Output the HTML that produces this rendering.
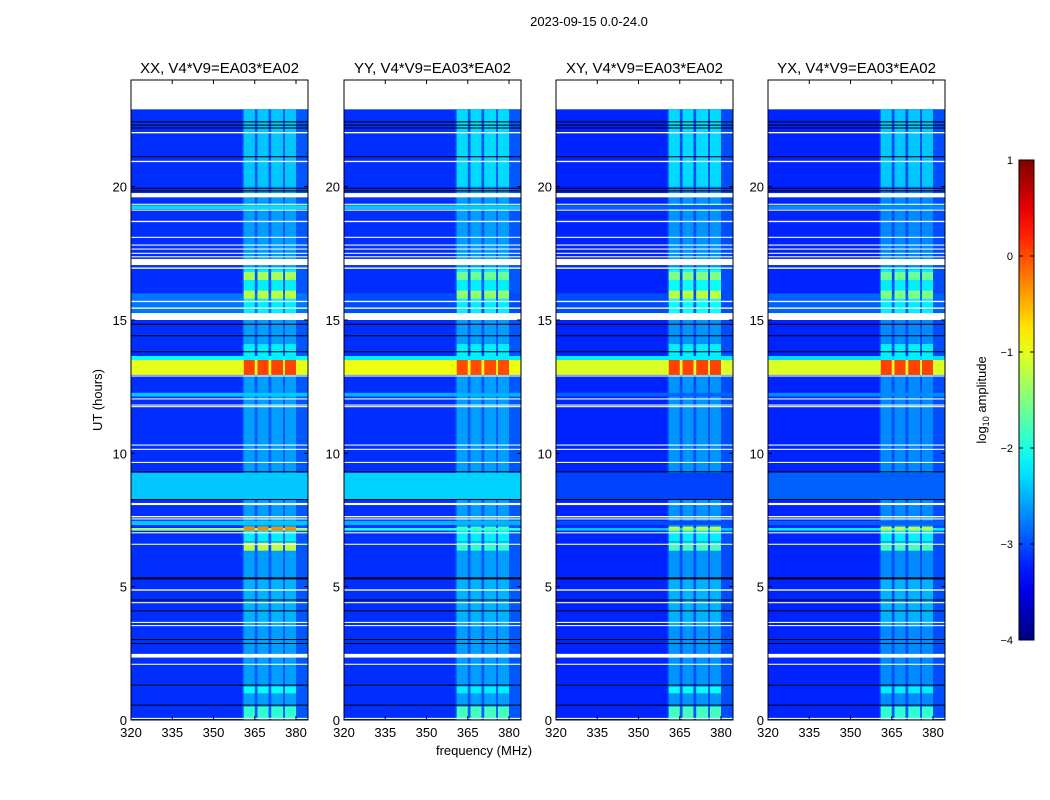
<!DOCTYPE html>
<html><head><meta charset="utf-8"><style>
body{margin:0;background:#fff;}
svg{display:block;font-family:"Liberation Sans",sans-serif;}
</style></head><body>
<svg id="chart" width="1050" height="800" viewBox="0 0 1050 800"></svg>
<script>
// ---- data ----
const panelNames = ["XX, V4*V9=EA03*EA02","YY, V4*V9=EA03*EA02","XY, V4*V9=EA03*EA02","YX, V4*V9=EA03*EA02"];
const panelLeft = [131,344,556,768];
const xTicks = [320,335,350,365,380];
const yTicks = [0,5,10,15,20];
const cbTicks = [1,0,-1,-2,-3,-4];
const bands = [[361,365],[366,370],[371,375.3],[376,380]];
const dataTop = 22.9;
const bgLevel = [-3.15,-3.15,-3.2,-3.2];
const regionLevel = [-2.95,-2.95,-3.0,-3.0];
const bandBase = [-2.6,-2.6,-2.65,-2.7];
// stripes across all frequencies: t0, t1, level per panel
const stripeT0 = [19.16,12.94,13.5,12.13,8.25,7.31,7.1,15.2];
const stripeT1 = [19.3,13.5,13.65,12.27,9.27,7.47,7.2,16.0];
const stripeLv = [
 [-2.3,-2.4,-2.9,-2.7],
 [-1.0,-0.95,-1.05,-1.05],
 [-2.1,-2.2,-2.2,-2.3],
 [-2.4,-2.5,-2.9,-2.7],
 [-2.4,-2.35,-3.05,-2.9],
 [-2.4,-2.5,-3.0,-2.9],
 [-1.3,-2.0,-2.4,-2.2],
 [-2.8,-3.0,-3.0,-2.9]
];
// band emission events: t0, t1, level per panel
const eventT0 = [0,1.0,6.35,6.7,7.1,12.94,13.5,15.1,15.8,16.5,20,3.5];
const eventT1 = [0.5,1.25,6.65,7.1,7.25,13.5,14.1,16.9,16.1,16.8,22.9,5.3];
const eventLv = [
 [-1.9,-1.8,-1.8,-1.9],
 [-2.1,-2.2,-2.1,-2.2],
 [-1.2,-1.9,-1.8,-1.8],
 [-2.2,-2.2,-2.2,-2.2],
 [-0.3,-1.8,-1.2,-1.2],
 [0.05,0.0,0.05,0.05],
 [-2.2,-2.2,-2.2,-2.2],
 [-2.2,-2.2,-2.1,-2.2],
 [-1.2,-1.4,-1.2,-1.5],
 [-1.3,-1.6,-1.5,-1.6],
 [-2.4,-2.3,-2.3,-2.4],
 [-2.5,-2.5,-2.5,-2.5]
];
// flagged (white) gaps
const gapT0 = [22.0,20.92,19.6,19.1,19.32,18.67,18.08,17.79,17.64,17.48,17.35,17.06,16.92,15.67,15.42,15.0,12.88,12.02,11.79,11.73,10.29,10.13,9.64,8.06,7.6,7.52,7.0,6.57,4.85,4.38,3.64,3.52,2.34,2.07,0.04];
const gapT1 = [22.05,20.97,19.76,19.14,19.36,18.72,18.12,17.83,17.68,17.52,17.39,17.29,16.97,15.72,15.47,15.26,12.92,12.06,11.83,11.77,10.33,10.17,9.68,8.14,7.65,7.56,7.04,6.61,4.9,4.42,3.68,3.56,2.48,2.11,0.08];
// black lines
const blackT = [22.43,22.31,22.2,21.12,19.94,19.84,14.84,14.41,13.81,9.31,8.27,5.29,5.33,4.5,4.09,3.02,2.87,1.31,0.56];

// ---- drawing ----
const NS="http://www.w3.org/2000/svg";
const svg=document.getElementById('chart');
function el(tag,attrs,parent){const e=document.createElementNS(NS,tag);for(const k in attrs)e.setAttribute(k,attrs[k]);(parent||svg).appendChild(e);return e;}
function jet(v){const x=Math.max(0,Math.min(1,(v+4)/5));const c=t=>Math.round(255*Math.max(0,Math.min(1,1.5-Math.abs(4*x-t))));return `rgb(${c(3)},${c(2)},${c(1)})`;}
const axTop=80, axBot=720, axW=177;
const yS=t=>720-(t/24)*(axBot-axTop);
const xS=(L,f)=>L+(f-320)*2.75;
const fMax=320+axW/2.75;

function txt(x,y,s,attrs,name){const t=el('text',Object.assign({x:x,y:y,'font-size':13,fill:'#000'},attrs||{}));t.textContent=s;return t;}

txt(589,26,'2023-09-15 0.0-24.0',{'text-anchor':'middle','font-size':13},'figure-title');

panelLeft.forEach((L,p)=>{
  const g=el('g',{});
  
  
  const clipId='clip'+p;
  const cp=el('clipPath',{id:clipId},g);el('rect',{x:L,y:axTop,width:axW,height:axBot-axTop},cp);
  const d=el('g',{'clip-path':`url(#${clipId})`},g);
  
  
  const rectF=(f0,f1,t0,t1,fill,name)=>{const r=el('rect',{x:xS(L,f0),y:yS(t1),width:xS(L,f1)-xS(L,f0),height:yS(t0)-yS(t1),fill:fill},d);return r;};
  rectF(320,fMax,0,dataTop,jet(bgLevel[p]),'background-cell');
  rectF(360.5,fMax,0,dataTop,jet(regionLevel[p]),'band-region-cell');
  bands.forEach(b=>rectF(b[0],b[1],0,dataTop,jet(bandBase[p]),'band-cell'));
  stripeT0.forEach((t0,i)=>rectF(320,fMax,t0,stripeT1[i],jet(stripeLv[i][p]),'stripe-cell'));
  eventT0.forEach((t0,i)=>bands.forEach(b=>rectF(b[0],b[1],t0,eventT1[i],jet(eventLv[i][p]),'band-event-cell')));
  gapT0.forEach((t0,i)=>rectF(320,fMax,t0,gapT1[i],'#fff','flagged-gap'));
  blackT.forEach(t=>{const l=el('line',{x1:L,x2:L+axW,y1:yS(t),y2:yS(t),stroke:'#000','stroke-width':1},d);});
  const fr=el('rect',{x:L,y:axTop,width:axW,height:axBot-axTop,fill:'none',stroke:'#000','stroke-width':1},g);
  
  xTicks.forEach(f=>{const x=xS(L,f);
    el('line',{x1:x,x2:x,y1:axBot,y2:axBot-4,stroke:'#000'},g);el('line',{x1:x,x2:x,y1:axTop,y2:axTop+4,stroke:'#000'},g);
    txt(x,737,String(f),{'text-anchor':'middle'},'x-tick-label');});
  yTicks.forEach(t=>{const y=yS(t);
    el('line',{x1:L,x2:L+4,y1:y,y2:y,stroke:'#000'},g);el('line',{x1:L+axW,x2:L+axW-4,y1:y,y2:y,stroke:'#000'},g);
    txt(L-4,y+5,String(t),{'text-anchor':'end'},'y-tick-label');});
  txt(L+axW/2,73,panelNames[p],{'text-anchor':'middle','font-size':15},'panel-title');
});
txt(484,755,'frequency (MHz)',{'text-anchor':'middle'},'x-axis-title');
txt(0,0,'UT (hours)',{'text-anchor':'middle',transform:'translate(102,400) rotate(-90)'},'y-axis-title');

// colorbar
const cb=el('g',{});


const defs=el('defs',{},cb);const lg=el('linearGradient',{id:'jetg',x1:0,y1:1,x2:0,y2:0},defs);
for(let i=0;i<=20;i++){el('stop',{offset:i/20,'stop-color':jet(-4+5*i/20)},lg);}
const cbY=v=>640-(v+4)/5*480;
el('rect',{x:1019,y:160,width:15,height:480,fill:'url(#jetg)',stroke:'#000','stroke-width':1},cb);
cbTicks.forEach(v=>{el('line',{x1:1019,x2:1023,y1:cbY(v),y2:cbY(v),stroke:'#000'},cb);el('line',{x1:1034,x2:1030,y1:cbY(v),y2:cbY(v),stroke:'#000'},cb);
  txt(1013,cbY(v)+4,(v<0?'\u2212':'')+Math.abs(v),{'text-anchor':'end','font-size':11},'colorbar-tick-label');});
const cl=txt(0,0,'',{'text-anchor':'middle',transform:'translate(986,400) rotate(-90)'},'colorbar-label');
cl.innerHTML='log<tspan font-size="9" dy="3">10</tspan><tspan dy="-3"> amplitude</tspan>';
</script>
</body></html>
